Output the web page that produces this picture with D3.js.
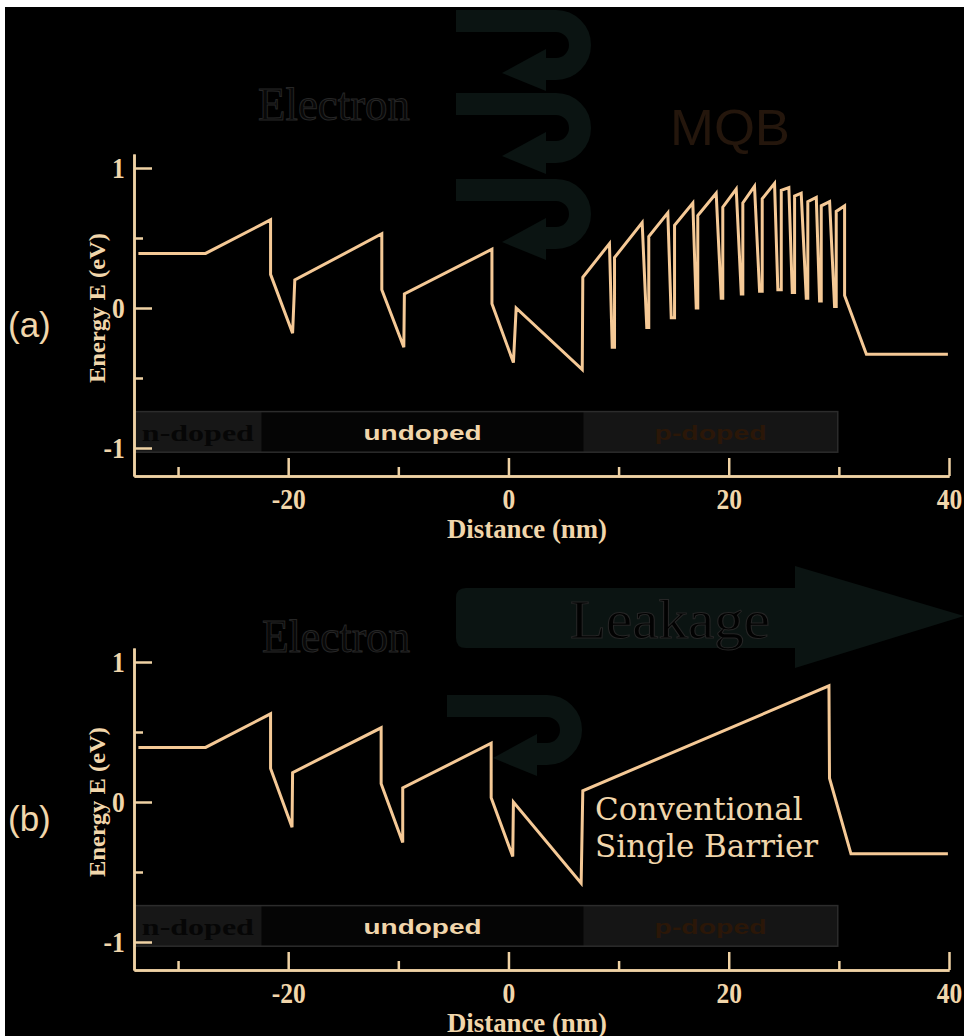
<!DOCTYPE html>
<html>
<head>
<meta charset="utf-8">
<script src="https://cdn.jsdelivr.net/npm/d3@7"></script>
<style>
  body { margin: 0; background: #fff; }
  svg { display: block; }
</style>
</head>
<body>
<svg id="chart" width="964" height="1036"></svg>
<script>
// Conduction band profile, (a) with the multi-quantum barrier, (b) single barrier
const bandA = [
  [-33.6, 0.39], [-27.5, 0.39], [-21.6, 0.63], [-21.6, 0.24], [-19.6, -0.18], [-19.4, 0.2],
  [-11.5, 0.53], [-11.5, 0.13], [-9.5, -0.28], [-9.45, 0.1], [-1.5, 0.42], [-1.5, 0.03],
  [0.45, -0.39], [0.7, 0], [6.7, -0.44], [6.75, 0.22],
  [9.17, 0.46], [9.42, -0.28], [9.63, -0.28], [9.63, 0.36],
  [12.14, 0.61], [12.56, -0.14], [12.74, -0.14], [12.74, 0.51],
  [14.47, 0.68], [14.78, -0.07], [15.08, -0.07], [15.08, 0.59],
  [16.74, 0.75], [17.05, 0.0], [17.19, 0.0], [17.19, 0.66],
  [18.86, 0.82], [19.32, 0.07], [19.46, 0.07], [19.46, 0.72],
  [20.68, 0.85], [21.14, 0.1], [21.28, 0.1], [21.28, 0.75],
  [22.34, 0.87], [22.8, 0.12], [23.04, 0.12], [23.04, 0.78],
  [24.16, 0.89], [24.46, 0.13], [24.77, 0.13], [24.77, 0.84],
  [25.46, 0.86], [25.77, 0.11], [25.98, 0.11], [25.98, 0.8],
  [26.58, 0.82], [27.04, 0.07], [27.18, 0.07], [27.18, 0.76],
  [27.95, 0.79], [28.25, 0.05], [28.4, 0.05], [28.4, 0.73],
  [29.16, 0.76], [29.61, 0.01], [29.76, 0.01], [29.76, 0.69],
  [30.52, 0.73], [30.52, 0.09], [32.5, -0.33], [39.9, -0.33]
];

const bandB = [
  [-33.6, 0.39], [-27.5, 0.39], [-21.6, 0.63], [-21.6, 0.24], [-19.65, -0.18], [-19.6, 0.21],
  [-11.56, 0.53], [-11.56, 0.13], [-9.6, -0.29], [-9.6, 0.1], [-1.57, 0.42], [-1.57, 0.03],
  [0.39, -0.39], [0.45, 0], [6.6, -0.58], [6.75, 0.08], [29.1, 0.83], [29.15, 0.17],
  [31.1, -0.37], [39.9, -0.37]
];

// doping regions along x (nm)
const regionNames = ["n-doped", "undoped", "p-doped"];
const regionEdges = [-34, -22.4, 6.8, 29.9];

const xMajor = [-20, 0, 20, 40];
const xMinor = [-30, -10, 10, 30];
const yMajor = [-1, 0, 1];
const yMinor = [-0.5, 0.5];

const colors = {
  band: "#f5c996",
  axis: "#efd2a4",
  text: "#f1d6ab",
  ghost: "#0b1412",
  regionBorder: "#2c2c2c",
  regionFill: ["#171717", "#050505", "#151515"],
  regionText: ["#060606", "#f1d6ab", "#2b1708"]
};

const svg = d3.select("#chart");
svg.append("rect").attr("x", 5).attr("y", 7).attr("width", 960).attr("height", 1030).attr("fill", "#000");

const x = d3.scaleLinear().domain([-34, 40]).range([134, 949]);

function uturn(g, x0, y0) {
  const ret = y0 + 48;
  g.append("path")
    .attr("d", `M${x0},${y0} H${x0 + 100} A24 24 0 0 1 ${x0 + 100},${ret} H${x0 + 86}`)
    .attr("fill", "none")
    .attr("stroke", colors.ghost)
    .attr("stroke-width", 22);
  g.append("path")
    .attr("d", `M${x0 + 46},${ret + 4} L${x0 + 90},${ret - 20} L${x0 + 90},${ret + 22} Z`)
    .attr("fill", colors.ghost);
}

function ghostText(g, txt, cx, cy, len, size, fill) {
  g.append("text")
    .attr("x", cx).attr("y", cy)
    .attr("text-anchor", "middle")
    .attr("dominant-baseline", "central")
    .attr("font-family", "Liberation Serif")
    .attr("font-size", size)
    .attr("textLength", len)
    .attr("lengthAdjust", "spacingAndGlyphs")
    .attr("fill", fill)
    .attr("stroke", "#262626")
    .attr("stroke-width", 1)
    .text(txt);
}

function drawPanel(cfg) {
  const y = d3.scaleLinear().domain([-1.2, 1.1]).range([cfg.bottom, cfg.bottom - 322]);
  const g = svg.append("g");

  // doping bar
  const bar = g.append("g");
  const barTop = y(-0.74), barBot = y(-1.03);
  regionNames.forEach((name, i) => {
    const x0 = x(regionEdges[i]), x1 = x(regionEdges[i + 1]);
    bar.append("rect")
      .attr("x", x0).attr("y", barTop)
      .attr("width", x1 - x0).attr("height", barBot - barTop)
      .attr("fill", colors.regionFill[i]);
    bar.append("text")
      .attr("x", (x0 + x1) / 2).attr("y", (barTop + barBot) / 2 + 1)
      .attr("text-anchor", "middle")
      .attr("dominant-baseline", "central")
      .attr("font-family", i === 0 ? "Liberation Serif" : "Liberation Sans")
      .attr("font-weight", "bold")
      .attr("font-size", i === 0 ? 24 : 21)
      .attr("textLength", i === 1 ? 118 : 112)
      .attr("lengthAdjust", "spacingAndGlyphs")
      .attr("fill", colors.regionText[i])
      .text(name);
  });
  bar.append("rect")
    .attr("x", x(regionEdges[0])).attr("y", barTop)
    .attr("width", x(regionEdges[3]) - x(regionEdges[0])).attr("height", barBot - barTop)
    .attr("fill", "none").attr("stroke", colors.regionBorder).attr("stroke-width", 1.5);

  // axes
  const styleAxis = (sel) => {
    sel.select(".domain").attr("stroke", colors.axis).attr("stroke-width", 2.5);
    sel.selectAll(".tick line").attr("stroke", colors.axis).attr("stroke-width", 2.5);
    sel.selectAll(".tick text")
      .attr("fill", colors.text)
      .attr("font-family", "Liberation Serif")
      .attr("font-weight", "bold")
      .attr("font-size", 30)
      .attr("transform", "scale(0.85,1)");
  };
  const fmt = d => String(d);

  g.append("g").attr("transform", `translate(0,${cfg.bottom})`)
    .call(d3.axisBottom(x).tickValues(xMinor).tickSize(-9).tickSizeOuter(0).tickFormat(""))
    .call(styleAxis);
  g.append("g").attr("transform", `translate(0,${cfg.bottom})`)
    .call(d3.axisBottom(x).tickValues(xMajor).tickSize(-18).tickSizeOuter(0).tickPadding(12).tickFormat(fmt))
    .call(styleAxis);
  g.append("g").attr("transform", `translate(${x.range()[0]},0)`)
    .call(d3.axisLeft(y).tickValues(yMinor).tickSize(-9).tickSizeOuter(0).tickFormat(""))
    .call(styleAxis);
  g.append("g").attr("transform", `translate(${x.range()[0]},0)`)
    .call(d3.axisLeft(y).tickValues(yMajor).tickSize(-18).tickSizeOuter(0).tickPadding(11).tickFormat(fmt))
    .call(styleAxis);

  g.append("text")
    .attr("x", 527).attr("y", cfg.bottom + 52)
    .attr("text-anchor", "middle").attr("dominant-baseline", "central")
    .attr("font-family", "Liberation Serif").attr("font-weight", "bold")
    .attr("font-size", 28).attr("textLength", 160).attr("lengthAdjust", "spacingAndGlyphs")
    .attr("fill", colors.text)
    .text("Distance (nm)");

  g.append("text")
    .attr("transform", `translate(97,${y(0)}) rotate(-90)`)
    .attr("text-anchor", "middle").attr("dominant-baseline", "central")
    .attr("font-family", "Liberation Serif").attr("font-weight", "bold")
    .attr("font-size", 23).attr("textLength", 150).attr("lengthAdjust", "spacingAndGlyphs")
    .attr("fill", colors.text)
    .text("Energy E (eV)");

  g.append("text")
    .attr("x", 8).attr("y", y(0) + 16)
    .attr("dominant-baseline", "central")
    .attr("font-family", "Liberation Sans")
    .attr("font-size", 35)
    .attr("fill", colors.text)
    .text(cfg.tag);

  // band edge
  const line = d3.line().x(d => x(d[0])).y(d => y(d[1]));
  g.append("path")
    .datum(cfg.band)
    .attr("d", line)
    .attr("fill", "none")
    .attr("stroke", colors.band)
    .attr("stroke-width", 3)
    .attr("stroke-linejoin", "miter");

  return { g, y };
}

// background ghost graphics, panel (a)
const bgA = svg.append("g");
[21, 104, 190].forEach(y0 => uturn(bgA, 456, y0));
ghostText(bgA, "Electron", 334, 104, 152, 46, "#080808");
bgA.append("text")
  .attr("x", 730).attr("y", 128)
  .attr("text-anchor", "middle").attr("dominant-baseline", "central")
  .attr("font-family", "Liberation Sans").attr("font-size", 50)
  .attr("textLength", 120).attr("lengthAdjust", "spacingAndGlyphs")
  .attr("fill", "#24160c")
  .text("MQB");

// background ghost graphics, panel (b)
const bgB = svg.append("g");
bgB.append("path")
  .attr("d", "M466,588 L795,588 L795,566 L964,616 L795,668 L795,648 L466,648 Q456,648 456,638 L456,598 Q456,588 466,588 Z")
  .attr("fill", colors.ghost);
ghostText(bgB, "Leakage", 670, 620, 200, 54, "#020202");
ghostText(bgB, "Electron", 336, 636, 148, 46, "#080808");
uturn(bgB, 447, 706);

drawPanel({ bottom: 476, band: bandA, tag: "(a)" });
const pb = drawPanel({ bottom: 970, band: bandB, tag: "(b)" });

pb.g.append("text")
  .attr("font-family", "DejaVu Serif")
  .attr("font-size", 31)
  .attr("fill", colors.text)
  .selectAll("tspan")
  .data(["Conventional", "Single Barrier"])
  .join("tspan")
  .attr("x", 595)
  .attr("y", (d, i) => 820 + i * 37)
  .text(d => d);
</script>
</body>
</html>
